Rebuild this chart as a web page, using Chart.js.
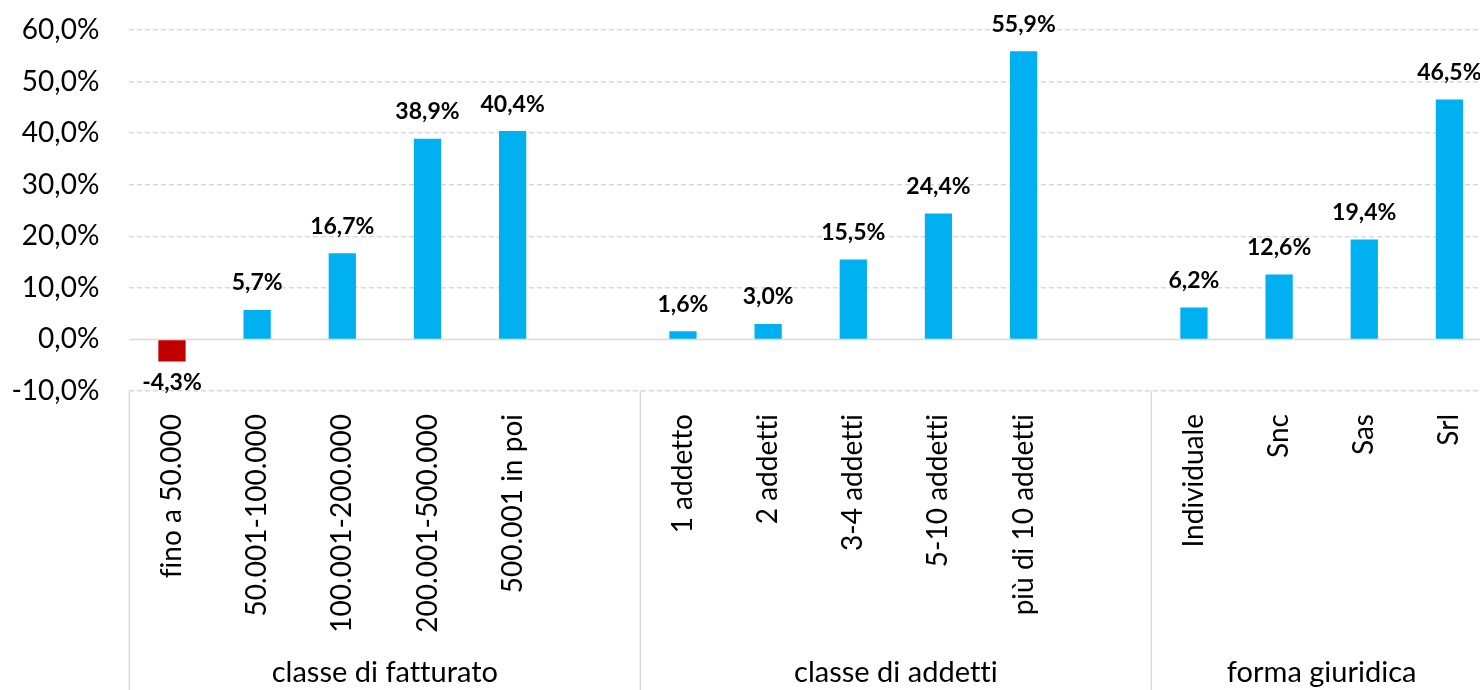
<!DOCTYPE html>
<html lang="it">
<head>
<meta charset="utf-8">
<title>Variazione per classe di fatturato, addetti e forma giuridica</title>
<script src="https://cdn.jsdelivr.net/npm/chart.js@4.4.0/dist/chart.umd.min.js"></script>
<style>
    html, body {
        margin: 0;
        padding: 0;
        background: #fff;
        overflow: hidden;
    }
    #wrap {
        position: relative;
        width: 1500px;
        height: 690px;
    }
</style>
</head>
<body>
<div id="wrap"><canvas id="barChart"></canvas></div>
<script>
// Categories (empty strings are the gaps between the groups)
const categories = [
    "fino a 50.000", "50.001-100.000", "100.001-200.000", "200.001-500.000", "500.001 in poi", "",
    "1 addetto", "2 addetti", "3-4 addetti", "5-10 addetti", "più di 10 addetti", "",
    "Individuale", "Snc", "Sas", "Srl",
];

// Values in percent
const values = [
    -4.3, 5.7, 16.7, 38.9, 40.4, null,
    1.6, 3.0, 15.5, 24.4, 55.9, null,
    6.2, 12.6, 19.4, 46.5,
];

// Outer group labels and how many slots each one covers
const groupLabels = ["classe di fatturato", "classe di addetti", "forma giuridica"];
const groupSizes = [6, 6, 4];

// Y axis ticks
const yTicks = [-10, 0, 10, 20, 30, 40, 50, 60];

const FONT = "Lato, 'Liberation Sans', Arial, sans-serif";
const GRID_COLOR = "#d9d9d9";

/**
 * Formats a number the italian way, e.g. 16.7 -> "16,7%".
 */
function formatPct(value) {
    return value.toFixed(1).replace(".", ",") + "%";
}

/**
 * No ligatures ("fi", "tt") in the canvas text.
 */
const noLigaturesPlugin = {
    id: "noLigatures",
    beforeDraw(chart) {
        chart.ctx.letterSpacing = "0.01px";
    },
};

/**
 * Solid zero line drawn under the bars.
 */
const zeroLinePlugin = {
    id: "zeroLine",
    beforeDatasetsDraw(chart) {
        const { ctx, chartArea, scales } = chart;
        const y = scales.y.getPixelForValue(0);
        ctx.save();
        ctx.strokeStyle = GRID_COLOR;
        ctx.lineWidth = 1.5;
        ctx.beginPath();
        ctx.moveTo(chartArea.left, y);
        ctx.lineTo(chartArea.right, y);
        ctx.stroke();
        ctx.restore();
    },
};

/**
 * Bold value labels above (or below, if negative) each bar.
 */
const valueLabelsPlugin = {
    id: "valueLabels",
    afterDatasetsDraw(chart) {
        const { ctx } = chart;
        const meta = chart.getDatasetMeta(0);
        ctx.save();
        ctx.font = "bold 23px " + FONT;
        ctx.fillStyle = "#000";
        ctx.textAlign = "center";
        ctx.textBaseline = "middle";
        meta.data.forEach((bar, i) => {
            const v = values[i];
            if (v === null) return;
            const y = v < 0 ? bar.y + 21 : bar.y - 27;
            ctx.fillText(formatPct(v), bar.x, y);
        });
        ctx.restore();
    },
};

/**
 * Second level of the category axis: separators and group names.
 */
const groupAxisPlugin = {
    id: "groupAxis",
    afterDraw(chart) {
        const { ctx, chartArea, scales } = chart;
        const x = scales.x;
        const half = (x.getPixelForValue(1) - x.getPixelForValue(0)) / 2;
        const top = chartArea.bottom;
        const bottom = chart.height;

        ctx.save();
        ctx.strokeStyle = GRID_COLOR;
        ctx.lineWidth = 1.5;
        ctx.font = "29px " + FONT;
        ctx.fillStyle = "#000";
        ctx.textAlign = "center";
        ctx.textBaseline = "middle";

        let start = 0;
        groupSizes.forEach((size, g) => {
            const left = x.getPixelForValue(start) - half;
            const right = x.getPixelForValue(start + size - 1) + half;
            ctx.beginPath();
            ctx.moveTo(left, top);
            ctx.lineTo(left, bottom);
            ctx.stroke();
            ctx.fillText(groupLabels[g], (left + right) / 2, 673);
            start += size;
        });
        ctx.restore();
    },
};

function initChart() {
    const canvas = document.getElementById("barChart");

    new Chart(canvas, {
        type: "bar",
        data: {
            labels: categories,
            datasets: [
                {
                    data: values,
                    backgroundColor: values.map((v) => (v !== null && v < 0 ? "#c00000" : "#00b0f0")),
                    barPercentage: 1,
                    categoryPercentage: 0.32,
                },
            ],
        },
        options: {
            responsive: true,
            maintainAspectRatio: false,
            animation: false,
            layout: {
                padding: { top: 30, right: 8, bottom: 0, left: 0 },
            },
            plugins: {
                legend: { display: false },
                tooltip: { enabled: false },
            },
            scales: {
                x: {
                    // tick marks are invisible, they only push the labels down
                    grid: {
                        display: true,
                        drawOnChartArea: false,
                        drawTicks: true,
                        tickLength: 23,
                        color: "rgba(0,0,0,0)",
                        tickColor: "rgba(0,0,0,0)",
                    },
                    border: { display: false },
                    ticks: {
                        autoSkip: false,
                        minRotation: 90,
                        maxRotation: 90,
                        padding: 0,
                        color: "#000",
                        font: { family: FONT, size: 28 },
                    },
                    afterFit: (scale) => {
                        scale.height = 299;
                    },
                },
                y: {
                    min: -10,
                    max: 60,
                    afterBuildTicks: (scale) => {
                        scale.ticks = yTicks.map((v) => ({ value: v }));
                    },
                    grid: {
                        drawTicks: true,
                        tickLength: 30,
                        tickColor: "rgba(0,0,0,0)",
                        color: (ctx) => (ctx.tick && ctx.tick.value === 0 ? "rgba(0,0,0,0)" : GRID_COLOR),
                        lineWidth: 1.5,
                    },
                    border: { display: false, dash: [5, 3] },
                    ticks: {
                        padding: 0,
                        color: "#000",
                        font: { family: FONT, size: 28 },
                        callback: (value) => formatPct(value),
                    },
                    afterFit: (scale) => {
                        scale.width = 129.4;
                    },
                },
            },
        },
        plugins: [noLigaturesPlugin, zeroLinePlugin, valueLabelsPlugin, groupAxisPlugin],
    });
}

initChart();
</script>
</body>
</html>
